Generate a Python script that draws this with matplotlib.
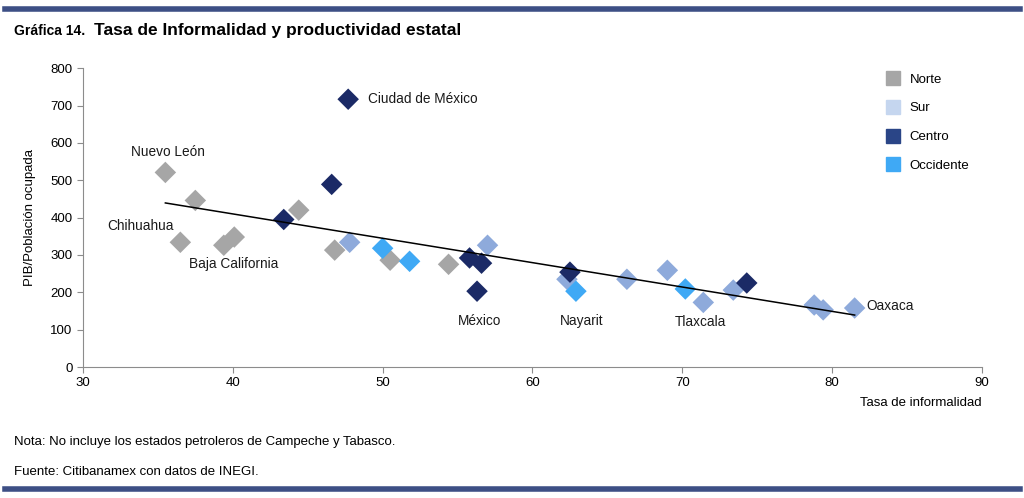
import matplotlib.pyplot as plt
import matplotlib.lines as mlines
import numpy as np

plt.rcParams['font.family'] = ['Liberation Sans', 'DejaVu Sans']

# Tasa de informalidad (%) vs PIB / Población ocupada, por región
norte_x = [35.5, 37.5, 36.5, 39.4, 40.1, 44.4, 46.8, 50.5, 54.4]
norte_y = [521, 446, 334, 326, 348, 420, 313, 286, 275]

sur_x = [47.8, 57.0, 62.3, 66.3, 69.0, 71.4, 73.4, 78.8, 79.4, 81.5]
sur_y = [334, 326, 235, 235, 259, 173, 206, 166, 153, 158]

centro_x = [47.7, 46.6, 43.4, 55.8, 56.6, 56.3, 62.5, 74.3]
centro_y = [717, 489, 395, 292, 278, 203, 254, 225]

occidente_x = [50.0, 51.8, 62.9, 70.2]
occidente_y = [318, 283, 203, 209]

regiones = ['Norte', 'Sur', 'Centro', 'Occidente']
colores = ['#a6a6a6', '#8eaadb', '#1b2a66', '#3fa9f5']
colores_leyenda = ['#a6a6a6', '#c5d6ef', '#2a4587', '#3fa9f5']

# etiquetas de estados: (nombre, x, y del texto)
etiquetas = [
    ('Ciudad de México', 49.0, 717),
    ('Nuevo León', 33.2, 575),
    ('Chihuahua', 31.6, 378),
    ('Baja California', 37.1, 275),
    ('México', 55.0, 122),
    ('Nayarit', 61.8, 122),
    ('Tlaxcala', 69.5, 120),
    ('Oaxaca', 82.3, 163),
]

fig = plt.figure(figsize=(10.24, 4.98), dpi=100)
ax = fig.add_axes([0.081, 0.263, 0.878, 0.600])

series = [(norte_x, norte_y), (sur_x, sur_y), (centro_x, centro_y), (occidente_x, occidente_y)]
for (xs, ys), c in zip(series, colores):
    ax.scatter(xs, ys, marker='D', s=120, color=c, edgecolors='none', zorder=3)

# línea de tendencia
all_x = np.array(norte_x + sur_x + centro_x + occidente_x)
all_y = np.array(norte_y + sur_y + centro_y + occidente_y)
m, b = np.polyfit(all_x, all_y, 1)
xl = np.array([all_x.min(), all_x.max()])
ax.plot(xl, m * xl + b, color='black', lw=1.1, zorder=4)

for txt, tx, ty in etiquetas:
    ax.text(tx, ty, txt, fontsize=9.8, ha='left', va='center', color='#1a1a1a')

ax.set_xlim(30, 90)
ax.set_ylim(0, 800)
ax.set_xticks(range(30, 91, 10))
ax.set_yticks(range(0, 801, 100))
for s in ['top', 'right']:
    ax.spines[s].set_visible(False)
for s in ['left', 'bottom']:
    ax.spines[s].set_color('#8c8c8c')
ax.tick_params(colors='#8c8c8c', labelcolor='black', labelsize=9.5, length=4)
ax.set_ylabel('PIB/Población ocupada', fontsize=9.5, labelpad=10)
ax.text(1.0, -0.12, 'Tasa de informalidad', transform=ax.transAxes,
        ha='right', va='center', fontsize=9.5)

handles = [mlines.Line2D([], [], marker='s', ls='none', markersize=10, color=c)
           for c in colores_leyenda]
ax.legend(handles, regiones, loc='upper left', bbox_to_anchor=(0.88, 1.0),
          frameon=False, fontsize=9.5, labelspacing=1.25, handletextpad=0.3,
          borderaxespad=0.0)

# barras y títulos
fig.add_artist(plt.Line2D([0.005, 0.996], [0.982, 0.982], color='#3d4f85', lw=4))
fig.add_artist(plt.Line2D([0.005, 0.996], [0.018, 0.018], color='#3d4f85', lw=4))
fig.text(0.014, 0.938, 'Gráfica 14.', fontsize=10, fontweight='bold', va='center')
fig.text(0.092, 0.938, 'Tasa de Informalidad y productividad estatal', fontsize=12.5,
         fontweight='bold', va='center')
fig.text(0.014, 0.113, 'Nota: No incluye los estados petroleros de Campeche y Tabasco.',
         fontsize=9.5, va='center')
fig.text(0.014, 0.053, 'Fuente: Citibanamex con datos de INEGI.', fontsize=9.5, va='center')

fig.savefig('out.png', dpi=100)
